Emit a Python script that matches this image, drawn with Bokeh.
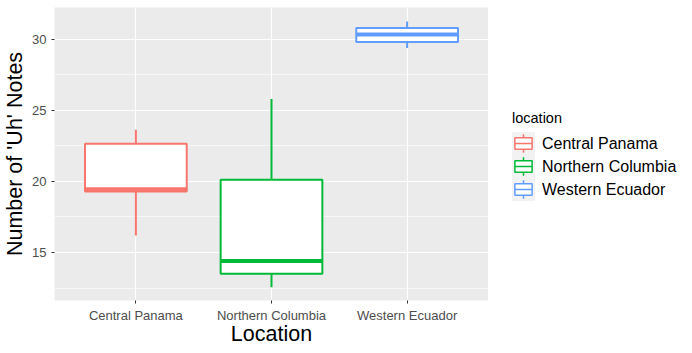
from bokeh.plotting import figure
from bokeh.models import Range1d, FixedTicker, ColumnDataSource
from bokeh.layouts import row
from bokeh.core.properties import value
from bokeh.embed import file_html
from bokeh.resources import INLINE

# ---- data ----
locations = ["Central Panama", "Northern Columbia", "Western Ecuador"]
whisker_low = [16.2, 12.55, 29.4]
q1 = [19.3, 13.5, 29.82]
median = [19.45, 14.4, 30.35]
q3 = [22.65, 20.12, 30.8]
whisker_high = [23.65, 25.8, 31.27]
colors = ["#F8766D", "#00BA38", "#619CFF"]
y_ticks = [15, 20, 25, 30]
y_minor = [12.5, 17.5, 22.5, 27.5, 32.5]

FONT = "Liberation Sans"
xs = [i + 1 for i in range(len(locations))]
half = 0.375

src = ColumnDataSource(dict(
    x=xs, xl=[x - half for x in xs], xr=[x + half for x in xs],
    lo=whisker_low, q1=q1, med=median, q3=q3, hi=whisker_high,
    color=colors, loc=locations))

p = figure(width=488, height=353, x_range=Range1d(0.4, 3.6),
           y_range=Range1d(11.62, 32.25), output_backend="svg",
           toolbar_location=None, min_border_left=52, min_border_right=0,
           min_border_top=7, min_border_bottom=53)
p.background_fill_color = "#EBEBEB"
p.border_fill_color = "white"
p.outline_line_color = None

p.segment(x0="x", x1="x", y0="q3", y1="hi", source=src, line_color="color", line_width=2)
p.segment(x0="x", x1="x", y0="lo", y1="q1", source=src, line_color="color", line_width=2)
p.quad(left="xl", right="xr", bottom="q1", top="q3", source=src,
       fill_color="white", line_color="color", line_width=2)
p.segment(x0="xl", x1="xr", y0="med", y1="med", source=src, line_color="color", line_width=4)

p.xaxis.ticker = FixedTicker(ticks=xs)
p.xaxis.major_label_overrides = {x: l for x, l in zip(xs, locations)}
p.yaxis.ticker = FixedTicker(ticks=y_ticks, minor_ticks=y_minor)
p.xgrid.ticker = FixedTicker(ticks=xs)

for g in (p.xgrid, p.ygrid):
    g.grid_line_color = "white"
    g.grid_line_width = 1.2
p.ygrid.minor_grid_line_color = "white"
p.ygrid.minor_grid_line_width = 0.6

for ax in (p.xaxis, p.yaxis):
    ax.axis_line_color = None
    ax.major_tick_line_color = "#333333"
    ax.major_tick_out = 3
    ax.major_tick_in = 0
    ax.minor_tick_line_color = None
    ax.major_label_text_font = FONT
    ax.major_label_text_font_size = "13px"
    ax.major_label_text_color = "#4D4D4D"
    ax.major_label_standoff = 4
    ax.axis_label_text_font = FONT
    ax.axis_label_text_font_size = "21.5px"
    ax.axis_label_text_font_style = "normal"
    ax.axis_label_text_color = "black"
p.xaxis.axis_label = "Location"
p.yaxis.axis_label = "Number of 'Uh' Notes"
p.xaxis.axis_label_standoff = -4
p.yaxis.axis_label_standoff = 2

# ---- legend panel (frame aligned with the main frame: screen y 7..300) ----
lg = figure(frame_width=204, frame_height=293, x_range=Range1d(488, 692), y_range=Range1d(300, 7),
            output_backend="svg", toolbar_location=None, min_border=0,
            min_border_top=7, min_border_bottom=53,
            x_axis_location=None, y_axis_location=None)
lg.grid.visible = False
lg.outline_line_color = None
lg.background_fill_color = "white"
lg.border_fill_color = "white"

key = 23
kx0 = 511.5
ky0 = 131.5
cy = [ky0 + key * (i + 0.5) for i in range(len(locations))]
cx = kx0 + key / 2
lsrc = ColumnDataSource(dict(
    l=[kx0] * 3, r=[kx0 + key] * 3,
    t=[c - key / 2 for c in cy], b=[c + key / 2 for c in cy],
    bl=[kx0 + key * 0.125] * 3, br=[kx0 + key * 0.875] * 3,
    bt=[c - key * 0.25 for c in cy], bb=[c + key * 0.25 for c in cy],
    wt=[c - key * 0.4 for c in cy], wb=[c + key * 0.4 for c in cy],
    cx=[cx] * 3, cy=cy, color=colors, tx=[541.5] * 3, loc=locations))
lg.quad(left="l", right="r", top="t", bottom="b", source=lsrc,
        fill_color="#F2F2F2", line_color=None)
lg.segment(x0="cx", x1="cx", y0="wt", y1="bt", source=lsrc, line_color="color", line_width=1.5)
lg.segment(x0="cx", x1="cx", y0="bb", y1="wb", source=lsrc, line_color="color", line_width=1.5)
lg.quad(left="bl", right="br", top="bt", bottom="bb", source=lsrc,
        fill_color="white", line_color="color", line_width=1.5)
lg.segment(x0="bl", x1="br", y0="cy", y1="cy", source=lsrc, line_color="color", line_width=1.5)
lg.text(x="tx", y="cy", text="loc", source=lsrc, text_font=value(FONT),
        text_font_size="16px", text_baseline="middle", text_color="black")
lg.text(x=[kx0], y=[117], text=["location"], text_font=value(FONT),
        text_font_size="14.5px", text_baseline="middle", text_color="black")

layout = row(p, lg, spacing=0)
open("out.html", "w").write(file_html(layout, INLINE))
